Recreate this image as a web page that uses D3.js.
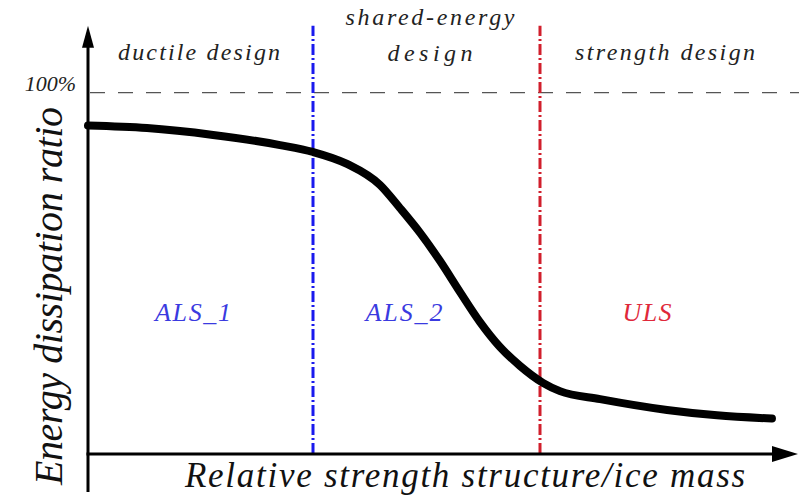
<!DOCTYPE html>
<html><head><meta charset="utf-8">
<script src="https://cdn.jsdelivr.net/npm/d3@7"></script>
<style>body{margin:0;background:#fff}svg{display:block}</style>
</head><body><svg id="c" width="799" height="496"></svg>
<script>
// Data (relative strength in units where the region boundaries are 1 and 2)
const curveX = [0, 0.260, 0.551, 0.846, 0.991, 1.141, 1.286, 1.374, 1.463, 1.551, 1.639, 1.727, 1.815, 1.903, 2.004, 2.079, 2.256, 2.551, 2.771, 3.013];
const curveY = [90.9, 90.2, 88.3, 85.5, 83.6, 80.3, 74.5, 68.1, 61.2, 53.4, 44.8, 36.5, 29.6, 24.4, 19.7, 17.4, 15.2, 12.2, 10.7, 9.8];
const boundaries = [1, 2];
const boundaryColors = ["#1a1aee", "#d11f2c"];
const regionTitles = [["ductile design"], ["shared-energy", "design"], ["strength design"]];
const regionLimitStates = ["ALS_1", "ALS_2", "ULS"];
const limitColors = ["#3a3ae0", "#3a3ae0", "#e0283a"];
const refLevel = 100;
const refLabel = "100%";
const xTitle = "Relative strength structure/ice mass";
const yTitle = "Energy dissipation ratio";

const FONT = '"Liberation Serif"';
const svg = d3.select("#c");
const x = d3.scaleLinear().domain([0, 1]).range([88, 315]);
const y = d3.scaleLinear().domain([0, 100]).range([454, 92.7]);
const yMax = 118.5;

// text centred on cx (or starting at it), widened with letter-spacing to a target width
function label(parent, str, cx, py, size, width, color, start) {
  const t = parent.append("text").attr("font-family", FONT).attr("font-style", "italic")
    .attr("font-size", size).attr("fill", color).attr("y", py).text(str);
  const w = t.node().getComputedTextLength() || width;
  const n = Math.max(1, str.length - 1);
  const ls = (width - w) / n;
  t.attr("letter-spacing", ls.toFixed(2));
  t.attr("x", start ? cx : cx - width / 2);
  return t;
}

// reference dashed line at 100%
svg.append("line").attr("x1", x(0)).attr("x2", 799).attr("y1", y(refLevel)).attr("y2", y(refLevel))
  .attr("stroke", "#555").attr("stroke-width", 1.2).attr("stroke-dasharray", "15,13").attr("stroke-dashoffset", -2);

// y axis tick label via axis
const yAxis = d3.axisLeft(y).tickValues([refLevel]).tickSize(0).tickPadding(12).tickFormat(() => refLabel);
const ga = svg.append("g").attr("transform", `translate(${x(0)},0)`).call(yAxis);
ga.attr("font-family", FONT).attr("font-size", 22);
ga.select(".domain").remove();
ga.selectAll("text").attr("font-family", FONT).attr("font-style", "italic").attr("font-size", 22).attr("fill", "#222").attr("dy", "-0.1em");

// boundaries
boundaries.forEach((b, i) => {
  svg.append("line").attr("x1", x(b) - 2).attr("x2", x(b) - 2).attr("y1", y(0)).attr("y2", y(yMax))
    .attr("stroke", boundaryColors[i]).attr("stroke-width", 3).attr("stroke-dasharray", "11,3,2,3");
});

// axes lines with arrows
svg.append("line").attr("x1", x(0)).attr("x2", x(0)).attr("y1", 492).attr("y2", y(yMax) + 18)
  .attr("stroke", "#000").attr("stroke-width", 3);
svg.append("path").attr("d", `M${x(0)},${y(yMax)} L${x(0) - 6},${y(yMax) + 22} L${x(0) + 6},${y(yMax) + 22} Z`).attr("fill", "#000");
svg.append("line").attr("x1", x(0) - 1.5).attr("x2", 776).attr("y1", y(0)).attr("y2", y(0))
  .attr("stroke", "#000").attr("stroke-width", 3);
svg.append("path").attr("d", `M798,${y(0)} L772,${y(0) - 8} L772,${y(0) + 8} Z`).attr("fill", "#000");

// curve
const pts = curveX.map((v, i) => [v, curveY[i]]);
svg.append("path").datum(pts)
  .attr("d", d3.line().x(d => x(d[0])).y(d => y(d[1])).curve(d3.curveMonotoneX))
  .attr("fill", "none").attr("stroke", "#000").attr("stroke-width", 8).attr("stroke-linecap", "round");

// region titles
const titleCx = [199, 430, 665];
const titleLen = [[162], [169, 85], [180]];
regionTitles.forEach((lines, i) => {
  lines.forEach((t, j) => {
    const base = lines.length === 1 ? 60 : 25 + j * 36;
    label(svg, t, titleCx[i], base, 24, titleLen[i][j], "#222");
  });
});

// limit state labels
const lsCx = [193, 404, 647];
const lsLen = [76, 77, 49];
regionLimitStates.forEach((t, i) => {
  label(svg, t, lsCx[i], 321, 26, lsLen[i], limitColors[i]);
});

// axis titles
label(svg, xTitle, 185, 487, 35, 560, "#111", true);
const gy = svg.append("g").attr("transform", "translate(62,296) rotate(-90)");
label(gy, yTitle, 0, 0, 40, 378, "#111");
</script></body></html>
